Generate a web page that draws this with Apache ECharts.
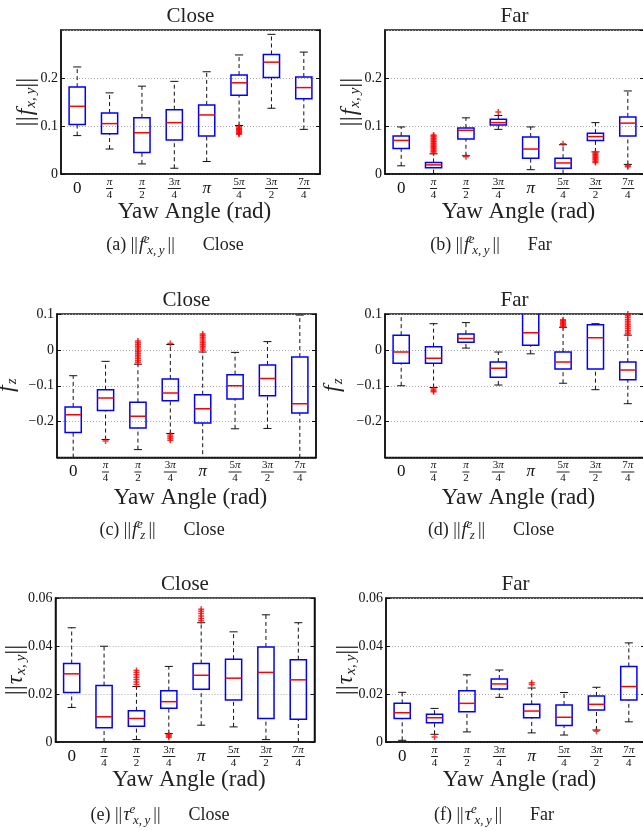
<!DOCTYPE html>
<html><head><meta charset="utf-8">
<script src="https://cdn.jsdelivr.net/npm/echarts@6/dist/echarts.min.js"></script>
<style>html,body{margin:0;padding:0;background:#fff}#c{width:643px;height:831px}</style>
</head><body><div id="c"></div>
<script>
// ---------------- DATA ----------------
const categories = ['0', 'π/4', 'π/2', '3π/4', 'π', '5π/4', '3π/2', '7π/4'];
const yTicksForce = [0, 0.1, 0.2];
const yTicksFz = [-0.2, -0.1, 0, 0.1];
const yTicksTorque = [0, 0.02, 0.04, 0.06];

// boxes: [lowWhisker, Q1, median, Q3, highWhisker]
const fxyCloseBox = [
  [0.080, 0.103, 0.141, 0.181, 0.223],
  [0.052, 0.084, 0.105, 0.127, 0.169],
  [0.021, 0.045, 0.086, 0.117, 0.183],
  [0.012, 0.071, 0.107, 0.134, 0.193],
  [0.026, 0.079, 0.123, 0.144, 0.213],
  [0.101, 0.164, 0.190, 0.206, 0.248],
  [0.137, 0.201, 0.233, 0.249, 0.291],
  [0.093, 0.157, 0.180, 0.202, 0.254]
];
const fxyCloseOut = [
  [5, 0.0985], [5, 0.096], [5, 0.0945], [5, 0.092], [5, 0.0905], [5, 0.088], [5, 0.086], [5, 0.0845], [5, 0.083]
];

const fxyFarBox = [
  [0.017, 0.053, 0.070, 0.079, 0.098],
  [0.001, 0.013, 0.019, 0.024, 0.042],
  [0.038, 0.073, 0.091, 0.096, 0.117],
  [0.093, 0.102, 0.107, 0.114, 0.122],
  [0.009, 0.033, 0.052, 0.077, 0.098],
  [0.001, 0.012, 0.023, 0.033, 0.061],
  [0.046, 0.070, 0.078, 0.085, 0.107],
  [0.020, 0.079, 0.106, 0.119, 0.173]
];
const fxyFarOut = [
  [1, 0.044], [1, 0.047], [1, 0.049], [1, 0.052], [1, 0.054], [1, 0.057], [1, 0.059], [1, 0.062],
  [1, 0.064], [1, 0.067], [1, 0.069], [1, 0.072], [1, 0.074], [1, 0.077], [1, 0.079], [1, 0.081],
  [2, 0.036], [3, 0.129], [5, 0.063],
  [6, 0.044], [6, 0.041], [6, 0.039], [6, 0.036], [6, 0.034], [6, 0.031], [6, 0.029], [6, 0.026], [6, 0.024],
  [7, 0.017], [7, 0.015]
];

const fzCloseBox = [
  [-0.320, -0.230, -0.181, -0.159, -0.072],
  [-0.250, -0.169, -0.134, -0.111, -0.032],
  [-0.278, -0.218, -0.185, -0.146, -0.040],
  [-0.233, -0.142, -0.120, -0.081, 0.015],
  [-0.330, -0.204, -0.164, -0.125, -0.006],
  [-0.220, -0.137, -0.100, -0.069, -0.007],
  [-0.219, -0.128, -0.080, -0.042, 0.023],
  [-0.340, -0.176, -0.150, -0.020, 0.097]
];
const fzCloseOut = [
  [1, -0.254],
  [2, -0.035], [2, -0.030], [2, -0.025], [2, -0.020], [2, -0.015], [2, -0.010], [2, -0.005], [2, 0.000],
  [2, 0.005], [2, 0.010], [2, 0.015], [2, 0.020], [2, 0.025],
  [3, 0.018], [3, -0.237], [3, -0.242], [3, -0.247], [3, -0.252],
  [4, 0.000], [4, 0.005], [4, 0.010], [4, 0.015], [4, 0.020], [4, 0.025], [4, 0.030], [4, 0.035], [4, 0.040], [4, 0.044]
];

const fzFarBox = [
  [-0.100, -0.037, -0.006, 0.041, 0.120],
  [-0.105, -0.037, -0.023, 0.009, 0.073],
  [0.005, 0.021, 0.032, 0.044, 0.076],
  [-0.098, -0.076, -0.051, -0.034, -0.006],
  [-0.011, 0.013, 0.048, 0.105, 0.140],
  [-0.093, -0.053, -0.034, -0.006, 0.063],
  [-0.111, -0.053, 0.034, 0.070, 0.073],
  [-0.150, -0.083, -0.056, -0.034, 0.041]
];
const fzFarOut = [
  [1, -0.109], [1, -0.113], [1, -0.117],
  [5, 0.066], [5, 0.069], [5, 0.072], [5, 0.075], [5, 0.078], [5, 0.081], [5, 0.084],
  [7, 0.045], [7, 0.050], [7, 0.055], [7, 0.060], [7, 0.065], [7, 0.070], [7, 0.075], [7, 0.080],
  [7, 0.085], [7, 0.090], [7, 0.095], [7, 0.100], [7, 0.105]
];

const txyCloseBox = [
  [0.0144, 0.0206, 0.0284, 0.0327, 0.0476],
  [0.0000, 0.0059, 0.0105, 0.0235, 0.0399],
  [0.0010, 0.0066, 0.0098, 0.0130, 0.0231],
  [0.0035, 0.0141, 0.0168, 0.0214, 0.0315],
  [0.0070, 0.0220, 0.0278, 0.0327, 0.0497],
  [0.0063, 0.0175, 0.0266, 0.0345, 0.0459],
  [0.0010, 0.0098, 0.0290, 0.0396, 0.0530],
  [0.0000, 0.0095, 0.0259, 0.0343, 0.0497]
];
const txyCloseOut = [
  [2, 0.0240], [2, 0.0250], [2, 0.0260], [2, 0.0270], [2, 0.0280], [2, 0.0290], [2, 0.0298],
  [3, 0.0030], [3, 0.0025], [3, 0.0020],
  [4, 0.0505], [4, 0.0515], [4, 0.0525], [4, 0.0535], [4, 0.0545], [4, 0.0553]
];

const txyFarBox = [
  [0.0007, 0.0098, 0.0122, 0.0161, 0.0207],
  [0.0032, 0.0080, 0.0101, 0.0116, 0.0140],
  [0.0042, 0.0126, 0.0161, 0.0214, 0.0280],
  [0.0186, 0.0221, 0.0242, 0.0262, 0.0300],
  [0.0038, 0.0101, 0.0129, 0.0157, 0.0225],
  [0.0029, 0.0069, 0.0103, 0.0154, 0.0206],
  [0.0050, 0.0133, 0.0157, 0.0192, 0.0228],
  [0.0084, 0.0175, 0.0231, 0.0315, 0.0413]
];
const txyFarOut = [
  [1, 0.0021], [4, 0.0240], [4, 0.0247], [6, 0.0045]
];

// ---------------- LAYOUT / STYLE ----------------
const SERIF = 'Liberation Serif';
const panels = [
  { box: fxyCloseBox, out: fxyCloseOut, ticks: yTicksForce, min: 0, max: 0.3, interval: 0.1, hideMax: true,
    grid: { left: 61, top: 30, width: 259, height: 144 }, yname: 'fxy', ynameGap: 22, xnameGap: 26,
    title: 'Close', caption: ['(a)', 'f', 'e', 'x,\u2009y', 'Close'], cap: [175, 245] },
  { box: fxyFarBox, out: fxyFarOut, ticks: yTicksForce, min: 0, max: 0.3, interval: 0.1, hideMax: true,
    grid: { left: 385, top: 30, width: 259, height: 144 }, yname: 'fxy', ynameGap: 22, xnameGap: 26,
    title: 'Far', caption: ['(b)', 'f', 'e', 'x,\u2009y', 'Far'], cap: [491, 245] },
  { box: fzCloseBox, out: fzCloseOut, ticks: yTicksFz, min: -0.3, max: 0.1, interval: 0.1, hideMin: true,
    grid: { left: 57, top: 314, width: 259, height: 143.5 }, yname: 'fz', ynameGap: 37, xnameGap: 29,
    title: 'Close', caption: ['(c)', 'f', 'e', 'z', 'Close'], cap: [162, 530] },
  { box: fzFarBox, out: fzFarOut, ticks: yTicksFz, min: -0.3, max: 0.1, interval: 0.1, hideMin: true,
    grid: { left: 385, top: 314, width: 259, height: 143.5 }, yname: 'fz', ynameGap: 39, xnameGap: 29,
    title: 'Far', caption: ['(d)', 'f', 'e', 'z', 'Close'], cap: [491, 530] },
  { box: txyCloseBox, out: txyCloseOut, ticks: yTicksTorque, min: 0, max: 0.06, interval: 0.02,
    grid: { left: 55.5, top: 598, width: 259, height: 144 }, yname: 'txy', ynameGap: 27, xnameGap: 26,
    title: 'Close', caption: ['(e)', 'τ', 'e', 'x,\u2009y', 'Close'], cap: [160, 815] },
  { box: txyFarBox, out: txyFarOut, ticks: yTicksTorque, min: 0, max: 0.06, interval: 0.02,
    grid: { left: 386, top: 598, width: 259, height: 144 }, yname: 'txy', ynameGap: 27, xnameGap: 26,
    title: 'Far', caption: ['(f)', 'τ', 'e', 'x,\u2009y', 'Far'], cap: [494, 815] }
];

const ynameText = {
  fxy: '{t|||}{i|f}{s|x,\u2009y}{t|||}',
  fz: '{i|f}{s|z}',
  txy: '{t|||}{i|τ}{s|x,\u2009y}{t|||}'
};
const ynameRich = {
  t: { fontFamily: SERIF, fontSize: 25, lineHeight: 26, color: '#222' },
  i: { fontFamily: SERIF, fontStyle: 'italic', fontSize: 24, lineHeight: 26, color: '#222', padding: [0, 1, 0, 1] },
  s: { fontFamily: SERIF, fontStyle: 'italic', fontSize: 15, lineHeight: 15, verticalAlign: 'bottom', color: '#222' }
};

const xLabelRich = {
  s: { fontFamily: SERIF, fontSize: 17, lineHeight: 23, color: '#111' },
  si: { fontFamily: SERIF, fontStyle: 'italic', fontSize: 17, lineHeight: 23, color: '#111' },
  n: { fontFamily: SERIF, fontSize: 11, lineHeight: 10, color: '#111' },
  ni: { fontFamily: SERIF, fontStyle: 'italic', fontSize: 11, lineHeight: 10, color: '#111' },
  b1: { width: 7, height: 1, lineHeight: 3, fontSize: 1, backgroundColor: '#222' },
  b2: { width: 13, height: 1, lineHeight: 3, fontSize: 1, backgroundColor: '#222' },
  d: { fontFamily: SERIF, fontSize: 11, lineHeight: 10, color: '#111' }
};
function piTok(str, plain, ital) {
  return str.split('π').map(s => s ? '{' + plain + '|' + s + '}' : '').join('{' + ital + '|π}');
}
function xLabelFmt(v) {
  const k = v.indexOf('/');
  if (k < 0) return piTok(v, 's', 'si');
  const n = v.slice(0, k), d = v.slice(k + 1);
  return piTok(n, 'n', 'ni') + '\n{b' + n.length + '| }\n{d|' + d + '}';
}

function renderBox(params, api) {
  const i = api.value(0);
  const pLo = api.coord([i, api.value(1)]);
  const pQ1 = api.coord([i, api.value(2)]);
  const pMed = api.coord([i, api.value(3)]);
  const pQ3 = api.coord([i, api.value(4)]);
  const pHi = api.coord([i, api.value(5)]);
  const cx = pLo[0];
  const bw = api.size([1, 0])[0] * 0.5;
  const cw = bw * 0.5;
  const dash = { stroke: '#111', lineWidth: 1, lineDash: [4, 3], fill: null };
  const solid = { stroke: '#111', lineWidth: 1, fill: null };
  return {
    type: 'group',
    children: [
      { type: 'line', shape: { x1: cx, y1: pLo[1], x2: cx, y2: pQ1[1] }, style: dash },
      { type: 'line', shape: { x1: cx, y1: pQ3[1], x2: cx, y2: pHi[1] }, style: dash },
      { type: 'line', shape: { x1: cx - cw / 2, y1: pLo[1], x2: cx + cw / 2, y2: pLo[1] }, style: solid },
      { type: 'line', shape: { x1: cx - cw / 2, y1: pHi[1], x2: cx + cw / 2, y2: pHi[1] }, style: solid },
      { type: 'rect', shape: { x: cx - bw / 2, y: pQ3[1], width: bw, height: pQ1[1] - pQ3[1] },
        style: { fill: null, stroke: '#0000ff', lineWidth: 1.5 } },
      { type: 'line', shape: { x1: cx - bw / 2, y1: pMed[1], x2: cx + bw / 2, y2: pMed[1] },
        style: { stroke: '#ff0000', lineWidth: 1.5 } }
    ]
  };
}

const grids = [], xAxes = [], yAxes = [], series = [], graphics = [];
panels.forEach((p, k) => {
  grids.push(Object.assign({ show: true, borderColor: '#111', borderWidth: 1.5, backgroundColor: 'transparent',
    outerBoundsMode: 'none', containLabel: false }, p.grid));
  xAxes.push({
    type: 'category', gridIndex: k, data: categories, boundaryGap: true, position: 'bottom',
    axisLine: { show: true, onZero: false, lineStyle: { color: '#111', width: 1.5 } },
    axisTick: { show: false },
    axisLabel: { interval: 0, margin: 3, formatter: xLabelFmt, rich: xLabelRich, color: '#111' },
    splitLine: { show: false },
    name: 'Yaw Angle (rad)', nameLocation: 'middle', nameGap: p.xnameGap, nameMoveOverlap: false,
    nameTextStyle: { fontFamily: SERIF, fontSize: 23, color: '#222', padding: [0, 0, 0, 8] }
  });
  const yCommon = {
    type: 'value', gridIndex: k, min: p.min, max: p.max, interval: p.interval
  };
  yAxes.push(Object.assign({}, yCommon, {
    position: 'left',
    axisLine: { show: true, onZero: false, lineStyle: { color: '#111', width: 1.5 } },
    axisTick: { show: true, inside: true, length: 4, lineStyle: { color: '#111' } },
    axisLabel: {
      margin: 3, fontFamily: SERIF, fontSize: 14, color: '#111',
      showMaxLabel: !p.hideMax, showMinLabel: !p.hideMin,
      formatter: v => (Math.abs(v) < 1e-9 ? '0' : String(+v.toFixed(3)).replace('-', '−'))
    },
    splitLine: { show: true, lineStyle: { color: '#aaa', type: [1, 2], width: 1 } },
    name: ynameText[p.yname], nameLocation: 'middle', nameRotate: 90, nameGap: p.ynameGap,
    nameMoveOverlap: false,
    nameTextStyle: { rich: ynameRich }
  }));
  yAxes.push(Object.assign({}, yCommon, {
    position: 'right',
    axisLine: { show: true, onZero: false, lineStyle: { color: '#111', width: 1.5 } },
    axisTick: { show: true, inside: true, length: 4, lineStyle: { color: '#111' } },
    axisLabel: { show: false },
    splitLine: { show: false }
  }));
  series.push({
    type: 'custom', xAxisIndex: k, yAxisIndex: 2 * k, clip: true,
    renderItem: renderBox,
    encode: { x: 0, y: [1, 2, 3, 4, 5] },
    data: p.box.map((b, i) => [i].concat(b)),
    z: 3
  });
  series.push({
    type: 'scatter', xAxisIndex: k, yAxisIndex: 2 * k, clip: true,
    symbol: 'path://M3,0H5V3H8V5H5V8H3V5H0V3H3Z', symbolSize: 6,
    itemStyle: { color: '#ff0000' },
    data: p.out, z: 4, silent: true
  });
  const cxTitle = p.grid.left + p.grid.width / 2;
  graphics.push({
    type: 'text', x: cxTitle, y: p.grid.top - 14,
    style: { text: p.title, font: '21px "' + SERIF + '"', fill: '#222', align: 'center', verticalAlign: 'middle' }
  });
  const c = p.caption;
  graphics.push({
    type: 'text', x: p.cap[0], y: p.cap[1],
    style: {
      text: '{r|' + c[0] + ' ||}{i|' + c[1] + '}{sup|' + c[2] + '}{sub|' + c[3] + '}{r|||}{gap| }{r|' + c[4] + '}',
      align: 'center', verticalAlign: 'middle',
      rich: {
        r: { font: '18px "' + SERIF + '"', fill: '#222', lineHeight: 24 },
        i: { font: 'italic 19px "' + SERIF + '"', fill: '#222', lineHeight: 24, padding: [0, 2, 0, 1] },
        sup: { font: 'italic 13px "' + SERIF + '"', fill: '#222', lineHeight: 13, verticalAlign: 'top', width: 1 },
        sub: { font: 'italic 13px "' + SERIF + '"', fill: '#222', lineHeight: 13, verticalAlign: 'bottom', padding: [0, 3, 0, 0] },
        gap: { font: '18px "' + SERIF + '"', width: 28, lineHeight: 24 }
      }
    }
  });
});

const chart = echarts.init(document.getElementById('c'), null, { renderer: 'canvas' });
chart.setOption({
  animation: false,
  backgroundColor: '#fff',
  grid: grids,
  xAxis: xAxes,
  yAxis: yAxes,
  series: series,
  graphic: graphics
});
</script>
</body></html>
